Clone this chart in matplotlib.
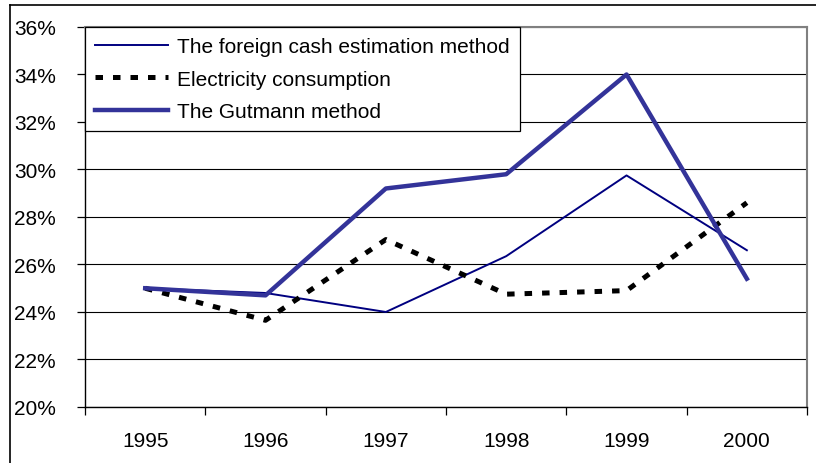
import matplotlib.pyplot as plt
from matplotlib.lines import Line2D
from matplotlib.ticker import FixedLocator, PercentFormatter

plt.rcParams['font.family'] = ['Liberation Sans', 'DejaVu Sans']

years = ['1995', '1996', '1997', '1998', '1999', '2000']
foreign_cash = [25.0, 24.8, 24.0, 26.35, 29.75, 26.6]
electricity = [25.0, 23.65, 27.05, 24.75, 24.9, 28.6]
gutmann = [25.0, 24.7, 29.2, 29.8, 34.0, 25.4]


def main():
    fig = plt.figure(figsize=(8.16, 4.64), dpi=100)
    ax = fig.add_axes([0.1042, 0.1207, 0.989 - 0.1042, 0.9397 - 0.1207])

    x = list(range(len(years)))
    ax.plot(x, foreign_cash, color='#000080', lw=1.4,
            label='The foreign cash estimation method', zorder=3)
    ax.plot(x, electricity, color='black', lw=3.6, linestyle=(0, (1.5, 2.0)),
            label='Electricity consumption', zorder=3)
    ax.plot(x, gutmann, color='#333399', lw=3.2,
            label='The Gutmann method', zorder=3)

    ax.set_xlim(-0.5, len(years) - 0.5)
    ax.set_ylim(20, 36)
    ax.set_yticks(range(20, 37, 2))
    ax.yaxis.set_major_formatter(PercentFormatter(decimals=0))
    ax.grid(axis='y', color='black', lw=0.8)
    ax.set_axisbelow(True)

    ax.set_xticks(x)
    ax.set_xticklabels(years)
    ax.xaxis.set_minor_locator(FixedLocator([i - 0.5 for i in range(len(years) + 1)]))
    ax.tick_params(axis='x', which='major', length=0, pad=17, labelsize=15)
    ax.tick_params(axis='x', which='minor', length=6, width=0.9, color='black')
    ax.tick_params(axis='y', length=6, width=0.9, pad=15, labelsize=15)

    for side in ['left', 'bottom']:
        ax.spines[side].set_color('black')
        ax.spines[side].set_linewidth(1.0)
    for side in ['top', 'right']:
        ax.spines[side].set_color('#808080')
        ax.spines[side].set_linewidth(1.5)

    leg = ax.legend(loc='upper left', bbox_to_anchor=(0, 1), borderaxespad=0,
                    fontsize=15, fancybox=False, edgecolor='black',
                    framealpha=1, handlelength=3.5, handletextpad=0.4,
                    labelspacing=0.64, borderpad=0.5)
    leg.get_frame().set_linewidth(0.9)

    # outer chart frame
    fig.add_artist(Line2D([0.0123, 1.0], [0.987, 0.987], transform=fig.transFigure,
                          color='black', lw=1.2))
    fig.add_artist(Line2D([0.0123, 0.0123], [0.0, 0.987], transform=fig.transFigure,
                          color='black', lw=1.2))

    fig.savefig('out.png', dpi=100)


if __name__ == '__main__':
    main()
